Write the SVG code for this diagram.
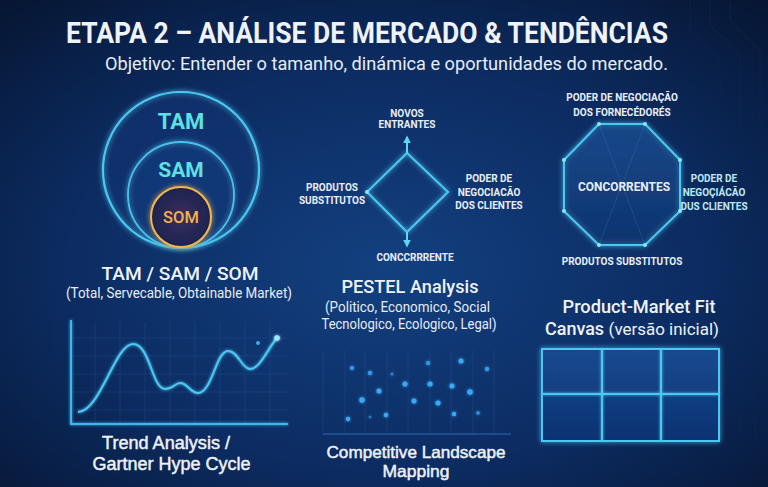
<svg xmlns="http://www.w3.org/2000/svg" width="768" height="487" viewBox="0 0 768 487">
<defs>
<radialGradient id="bg" cx="0.5" cy="0.55" r="0.75">
<stop offset="0" stop-color="#134080"/>
<stop offset="0.55" stop-color="#0c2c62"/>
<stop offset="1" stop-color="#061531"/>
</radialGradient>
<radialGradient id="somfill" cx="0.5" cy="0.5" r="0.5">
<stop offset="0" stop-color="#3a2f5e"/>
<stop offset="1" stop-color="#1d2350"/>
</radialGradient>
<linearGradient id="octfill" x1="0" y1="0" x2="0" y2="1">
<stop offset="0" stop-color="#1a4a8c" stop-opacity="0.7"/>
<stop offset="1" stop-color="#0f3470" stop-opacity="0.7"/>
</linearGradient>
<linearGradient id="cellfill" x1="0" y1="0" x2="0" y2="1">
<stop offset="0" stop-color="#164a90"/>
<stop offset="1" stop-color="#0d3272"/>
</linearGradient>
<filter id="glow" x="-30%" y="-30%" width="160%" height="160%">
<feGaussianBlur stdDeviation="2.5" result="b"/>
<feMerge><feMergeNode in="b"/><feMergeNode in="SourceGraphic"/></feMerge>
</filter>
<filter id="soft" x="-100%" y="-100%" width="300%" height="300%">
<feGaussianBlur stdDeviation="1.5" result="b"/>
<feMerge><feMergeNode in="b"/><feMergeNode in="SourceGraphic"/></feMerge>
</filter>
<marker id="arr" viewBox="0 0 10 10" refX="8" refY="5" markerWidth="4" markerHeight="4" orient="auto-start-reverse">
<path d="M0,0 L10,5 L0,10 z" fill="#5fd4f5"/>
</marker>
<style>
text{font-family:Roboto,"Liberation Sans",sans-serif;}
.ttl{font-size:29px;font-weight:700;fill:#eef3fb;}
.sub{font-size:18.5px;font-weight:400;fill:#e6edf8;}
.cap{font-size:19px;font-weight:500;fill:#eef3fb;text-anchor:middle;}
.capl{font-family:"Liberation Sans",Arial,sans-serif;font-weight:400;fill:#eef3fb;stroke:#eef3fb;stroke-width:0.45;text-anchor:middle;}
.cap2{font-size:14px;font-weight:400;fill:#e6edf8;text-anchor:middle;}
.lbl{font-size:10px;font-weight:700;fill:#e8eef8;text-anchor:middle;}
.lblc{font-size:10px;font-weight:700;fill:#bfeaf5;text-anchor:middle;}
.grid{stroke:#2a5aa0;stroke-width:0.6;opacity:0.5;}
.dot{fill:#3aa8f5;}
.circ{stroke:#0f2a55;stroke-width:1;fill:none;opacity:0.6;}
</style>
</defs>

<rect width="768" height="487" fill="url(#bg)"/>
<g class="circ" stroke="#2a5a9a">
<path d="M690,0 L690,30 L720,60 L720,140 M710,0 L710,25 L740,55 L740,150 M730,0 L730,20 L760,50 L760,160"/>
<path d="M0,300 L30,300 L50,320 L50,380 M0,340 L20,340 L35,355 L35,420"/>
<path d="M740,300 L740,430 L720,450 M755,280 L755,440"/>
</g>

<g id="title">
<text class="ttl" x="66" y="43" textLength="602" lengthAdjust="spacingAndGlyphs">ETAPA 2 – ANÁLISE DE MERCADO &amp; TENDÊNCIAS</text>
<text class="sub" x="105" y="70" textLength="563" lengthAdjust="spacingAndGlyphs">Objetivo: Entender o tamanho, dinámica e oportunidades do mercado.</text>
</g>

<g id="tam-sam-som">
<circle cx="181" cy="170" r="78" fill="#0f3270" fill-opacity="0.5" stroke="#4cc8f2" stroke-width="2.2" filter="url(#glow)"/>
<circle cx="181" cy="195" r="53" fill="#123a7a" fill-opacity="0.5" stroke="#4cc0ec" stroke-width="1.8" filter="url(#glow)"/>
<circle cx="181" cy="217" r="30" fill="url(#somfill)" stroke="#f3b84e" stroke-width="2" filter="url(#glow)"/>
<text x="181" y="129" font-size="22" font-weight="700" fill="#5fe0e2" text-anchor="middle">TAM</text>
<text x="181" y="177" font-size="21" font-weight="700" fill="#5fe0e2" text-anchor="middle">SAM</text>
<text x="181" y="223" font-size="16.5" font-weight="500" fill="#f6b14a" text-anchor="middle">SOM</text>
<text class="cap" x="180" y="280" textLength="157" lengthAdjust="spacingAndGlyphs">TAM / SAM / SOM</text>
<text class="cap2" x="179" y="298" textLength="226" lengthAdjust="spacingAndGlyphs">(Total, Servecable, Obtainable Market)</text>
</g>

<g id="porter-diamond">
<path d="M407,153 L448,192 L407,232 L367,192 Z" fill="none" stroke="#4cc8f2" stroke-width="2" filter="url(#glow)"/>
<circle cx="367" cy="192" r="2" fill="#8fe4ff"/>
<text class="lbl" x="407" y="117">NOVOS</text>
<text class="lbl" x="407" y="128">ENTRANTES</text>
<text class="lbl" x="332" y="190.5">PRODUTOS</text>
<text class="lbl" x="332" y="204">SUBSTITUTOS</text>
<text class="lbl" x="489" y="182">PODER DE</text>
<text class="lbl" x="489" y="195.5">NEGOCIACÃO</text>
<text class="lbl" x="489" y="209">DOS CLIENTES</text>
<text class="lbl" x="415" y="261">CONCCRRRENTE</text>
<text class="cap" x="410" y="293" font-weight="700" font-size="18" textLength="137" lengthAdjust="spacingAndGlyphs">PESTEL Analysis</text>
<text class="cap2" x="407.5" y="312" textLength="165" lengthAdjust="spacingAndGlyphs">(Politico, Economico, Social</text>
<text class="cap2" x="409" y="329" textLength="175" lengthAdjust="spacingAndGlyphs">Tecnologico, Ecologico, Legal)</text>
</g>

<g id="porter-octagon">
<path d="M599,124 L645,124 L680,160 L680,211 L645,245 L599,245 L564,211 L564,160 Z" fill="url(#octfill)" stroke="#4cc8f2" stroke-width="2" filter="url(#glow)"/>
<path d="M599,124 L645,245 M645,124 L599,245" stroke="#3a7ac0" stroke-width="0.6" opacity="0.5"/>
<g fill="#8fe4ff">
<circle cx="599" cy="124" r="2"/><circle cx="645" cy="124" r="2"/><circle cx="680" cy="160" r="2"/><circle cx="680" cy="211" r="2"/>
<circle cx="645" cy="245" r="2"/><circle cx="599" cy="245" r="2"/><circle cx="564" cy="211" r="2"/><circle cx="564" cy="160" r="2"/>
</g>
<text class="lbl" x="622" y="101">PODER DE NEGOCIAÇÃO</text>
<text class="lbl" x="622" y="116">DOS FORNECÉDORÉS</text>
<text x="624" y="191" font-size="13" font-weight="700" fill="#e8eef8" text-anchor="middle" textLength="92" lengthAdjust="spacingAndGlyphs">CONCORRENTES</text>
<text class="lblc" x="714" y="182">PODER DE</text>
<text class="lblc" x="714" y="195.5">NEGOÇIÁCÃO</text>
<text class="lblc" x="714" y="210">DUS CLIENTES</text>
<text class="lbl" x="622" y="265">PRODUTOS SUBSTITUTOS</text>
</g>

<g id="trend-chart">
<g class="grid">
<path d="M71,338 H288 M71,356 H288 M71,374 H288 M71,392 H288 M71,410 H288"/>
<path d="M95,322 V424 M120,322 V424 M145,322 V424 M170,322 V424 M195,322 V424 M220,322 V424 M245,322 V424 M270,322 V424"/>
</g>
<path d="M71,320 L71,424 L288,424" fill="none" stroke="#3fb6ee" stroke-width="2" filter="url(#soft)"/>
<path d="M78,412 C100,412 115,344 133,344 C150,344 152,389 165,389 C173,389 175,383 180,383 C188,383 190,393 198,393 C212,393 216,351 228,351 C238,351 242,369 250,369 C260,369 268,348 277,338" fill="none" stroke="#4cc8f2" stroke-width="2" filter="url(#soft)"/>
<circle cx="277" cy="338" r="2.8" fill="#9fe8ff" filter="url(#soft)"/>
<circle cx="258" cy="343" r="2" fill="#3aa8f5"/>
<text class="capl" x="166" y="449" font-size="18" textLength="128" lengthAdjust="spacingAndGlyphs">Trend Analysis /</text>
<text class="capl" x="171.5" y="469.5" font-size="18" textLength="158" lengthAdjust="spacingAndGlyphs">Gartner Hype Cycle</text>
</g>

<g id="competitive-landscape">
<g class="grid" opacity="0.35">
<path d="M323,350 V434 M345,350 V434 M365,350 V434 M387,350 V434 M408,350 V434 M430,350 V434 M451,350 V434 M473,350 V434 M494,350 V434"/>
</g>
<path d="M323,434 H511" stroke="#2f6ab0" stroke-width="1"/>
<g class="dot" filter="url(#soft)">
<circle cx="352" cy="368" r="2.2" opacity="0.7"/>
<circle cx="370" cy="373" r="2.2" opacity="0.8"/>
<circle cx="392" cy="374" r="1.5" opacity="0.6"/>
<circle cx="428" cy="363" r="2.2" opacity="0.7"/>
<circle cx="461" cy="361" r="2.5"/>
<circle cx="487" cy="369" r="2.2" opacity="0.8"/>
<circle cx="379" cy="391" r="2.5"/>
<circle cx="405" cy="384" r="2.5"/>
<circle cx="430" cy="384" r="2.5"/>
<circle cx="452" cy="386" r="2.5"/>
<circle cx="470" cy="392" r="2.7"/>
<circle cx="362" cy="400" r="2.7"/>
<circle cx="414" cy="401" r="2.5"/>
<circle cx="438" cy="403" r="2.5"/>
<circle cx="348" cy="419" r="2.2"/>
<circle cx="370" cy="417" r="1.3" opacity="0.6"/>
<circle cx="386" cy="415" r="2.2"/>
<circle cx="454" cy="414" r="2.2"/>
<circle cx="478" cy="413" r="1.8" opacity="0.8"/>
</g>
<text class="capl" x="416" y="458" font-size="16.5" textLength="179" lengthAdjust="spacingAndGlyphs">Competitive Landscape</text>
<text class="capl" x="416" y="477" font-size="16.5" textLength="67" lengthAdjust="spacingAndGlyphs">Mapping</text>
</g>

<g id="pmf-canvas">
<text class="cap" x="639" y="313" font-weight="700" font-size="18" textLength="153" lengthAdjust="spacingAndGlyphs">Product-Market Fit</text>
<text x="632" y="335" font-size="18" font-weight="500" fill="#eef3fb" text-anchor="middle" textLength="174" lengthAdjust="spacingAndGlyphs">Canvas <tspan font-weight="400" font-size="17">(versão inicial)</tspan></text>
<rect x="542" y="349" width="177" height="92" fill="url(#cellfill)" stroke="#4cc8f2" stroke-width="2" filter="url(#glow)"/>
<path d="M602,349 V441 M661,349 V441 M542,394 H719" stroke="#4cc8f2" stroke-width="2" filter="url(#soft)"/>
</g>

<g id="connectors">
<path d="M407,153 L407,137" stroke="#5fd4f5" stroke-width="2" marker-end="url(#arr)"/>
<path d="M407,232 L407,246" stroke="#5fd4f5" stroke-width="2" marker-end="url(#arr)"/>
</g>
</svg>
